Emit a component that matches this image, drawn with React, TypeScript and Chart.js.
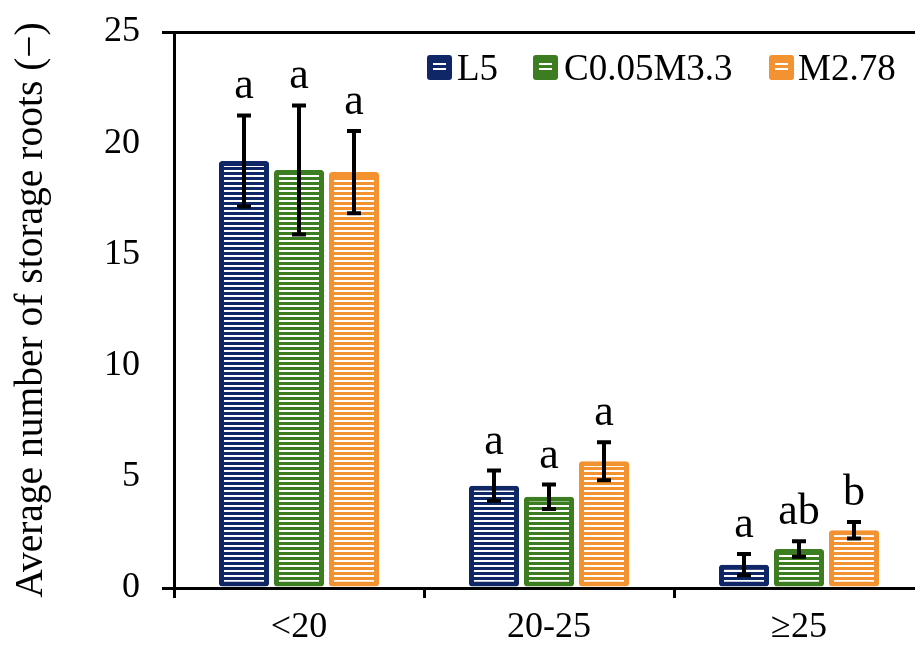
import React, { useEffect, useRef } from 'react';
import { Chart, registerables } from 'chart.js';

Chart.register(...registerables);

const categories = ['<20', '20-25', '≥25'];
const seriesNames = ['L5', 'C0.05M3.3', 'M2.78'];
const seriesColors = ['#0f2766', '#3c7d22', '#f39231'];
const l5Values = [19.2, 4.6, 1.05];
const l5Errors = [2.05, 0.68, 0.48];
const cValues = [18.8, 4.1, 1.75];
const cErrors = [2.9, 0.55, 0.35];
const mValues = [18.7, 5.7, 2.6];
const mErrors = [1.85, 0.85, 0.37];
const l5Letters = ['a', 'a', 'a'];
const cLetters = ['a', 'a', 'ab'];
const mLetters = ['a', 'a', 'b'];
const yMin = 0;
const yMax = 25;
const yStep = 5;
const yTitle = 'Average number of storage roots (\u2212)';

const FONT = '"Liberation Serif", "Times New Roman", serif';

function stripePattern(color: string): CanvasPattern | string {
  const c = document.createElement('canvas');
  c.width = 4;
  c.height = 5;
  const g = c.getContext('2d');
  if (!g) return color;
  g.fillStyle = color;
  g.fillRect(0, 0, 4, 5);
  g.fillStyle = '#ffffff';
  g.fillRect(0, 0, 4, 2);
  return g.createPattern(c, 'repeat') || color;
}

export default function App() {
  const ref = useRef<HTMLCanvasElement | null>(null);

  useEffect(() => {
    document.body.style.margin = '0';
    const canvas = ref.current;
    if (!canvas) return;
    const values = [l5Values, cValues, mValues];
    const errors = [l5Errors, cErrors, mErrors];
    const letters = [l5Letters, cLetters, mLetters];

    const overlay = {
      id: 'overlay',
      afterDatasetsDraw(chart: any) {
        const ctx = chart.ctx;
        const ys = chart.scales.y;
        ctx.save();
        for (let d = 0; d < chart.data.datasets.length; d++) {
          const meta = chart.getDatasetMeta(d);
          meta.data.forEach((bar: any, i: number) => {
            const v = values[d][i];
            const e = errors[d][i];
            const top = ys.getPixelForValue(v + e);
            const bot = ys.getPixelForValue(v - e);
            ctx.strokeStyle = '#000';
            ctx.lineWidth = 4;
            ctx.beginPath();
            ctx.moveTo(bar.x, top);
            ctx.lineTo(bar.x, bot);
            ctx.moveTo(bar.x - 7, top);
            ctx.lineTo(bar.x + 7, top);
            ctx.moveTo(bar.x - 7, bot);
            ctx.lineTo(bar.x + 7, bot);
            ctx.stroke();
            ctx.fillStyle = '#000';
            ctx.font = '44px ' + FONT;
            ctx.textAlign = 'center';
            ctx.textBaseline = 'alphabetic';
            ctx.fillText(letters[d][i], bar.x, top - 17);
          });
        }
        // legend
        const boxX = [427, 533, 769];
        const textX = [457, 564, 798];
        ctx.font = '37px ' + FONT;
        ctx.textAlign = 'left';
        ctx.textBaseline = 'alphabetic';
        for (let d = 0; d < seriesNames.length; d++) {
          const x = boxX[d];
          const y = 55;
          ctx.fillStyle = seriesColors[d];
          ctx.beginPath();
          (ctx as any).roundRect(x, y, 25, 25, 3);
          ctx.fill();
          ctx.fillStyle = '#ffffff';
          ctx.fillRect(x + 6, y + 8, 13, 2);
          ctx.fillRect(x + 6, y + 13, 13, 2);
          ctx.fillStyle = '#000';
          ctx.fillText(seriesNames[d], textX[d], 80);
        }
        ctx.restore();
      },
    };

    const chart = new Chart(canvas, {
      type: 'bar',
      data: {
        labels: categories,
        datasets: seriesNames.map((name, d) => ({
          label: name,
          data: values[d],
          backgroundColor: stripePattern(seriesColors[d]) as any,
          borderColor: seriesColors[d],
          borderWidth: 5,
          borderRadius: 3,
          borderSkipped: false,
          barPercentage: 0.91,
          categoryPercentage: 0.66,
        })),
      },
      options: {
        responsive: false,
        animation: false,
        layout: { padding: { top: 32, right: 2, left: 0, bottom: 0 } },
        plugins: { legend: { display: false }, tooltip: { enabled: false } },
        scales: {
          x: {
            afterFit: (s: any) => { s.height = 63; s.paddingLeft = 0; s.paddingRight = 0; },
            grid: {
              display: true,
              drawOnChartArea: false,
              color: '#000',
              lineWidth: 3,
              tickLength: 10,
              offset: true,
            },
            border: { display: true, color: '#000', width: 3 },
            ticks: { color: '#000', font: { family: FONT, size: 36 }, padding: 8 },
          },
          y: {
            min: yMin,
            max: yMax,
            afterFit: (s: any) => { s.width = 174; s.paddingTop = 0; s.paddingBottom = 0; },
            ticks: { stepSize: yStep, color: '#000', font: { family: FONT, size: 36 }, padding: 22 },
            grid: {
              display: true,
              drawOnChartArea: true,
              color: (c: any) => (c.tick && c.tick.value === yMax ? '#000' : 'rgba(0,0,0,0)'),
              tickColor: (c: any) => (c.tick && (c.tick.value === yMax || c.tick.value === yMin) ? '#000' : 'rgba(0,0,0,0)'),
              lineWidth: 3,
              tickLength: 12,
            },
            border: { display: true, color: '#000', width: 3 },
            title: {
              display: true,
              text: yTitle,
              color: '#000',
              font: { family: FONT, size: 39.5 },
              padding: { top: 8, bottom: 0 },
            },
          },
        },
      },
      plugins: [overlay],
    });
    return () => chart.destroy();
  }, []);

  return (
    <div style={{ width: 915, height: 651, overflow: 'hidden', position: 'relative' }}>
      <canvas ref={ref} width={926} height={651} style={{ width: 926, height: 651, display: 'block' }} />
    </div>
  );
}
